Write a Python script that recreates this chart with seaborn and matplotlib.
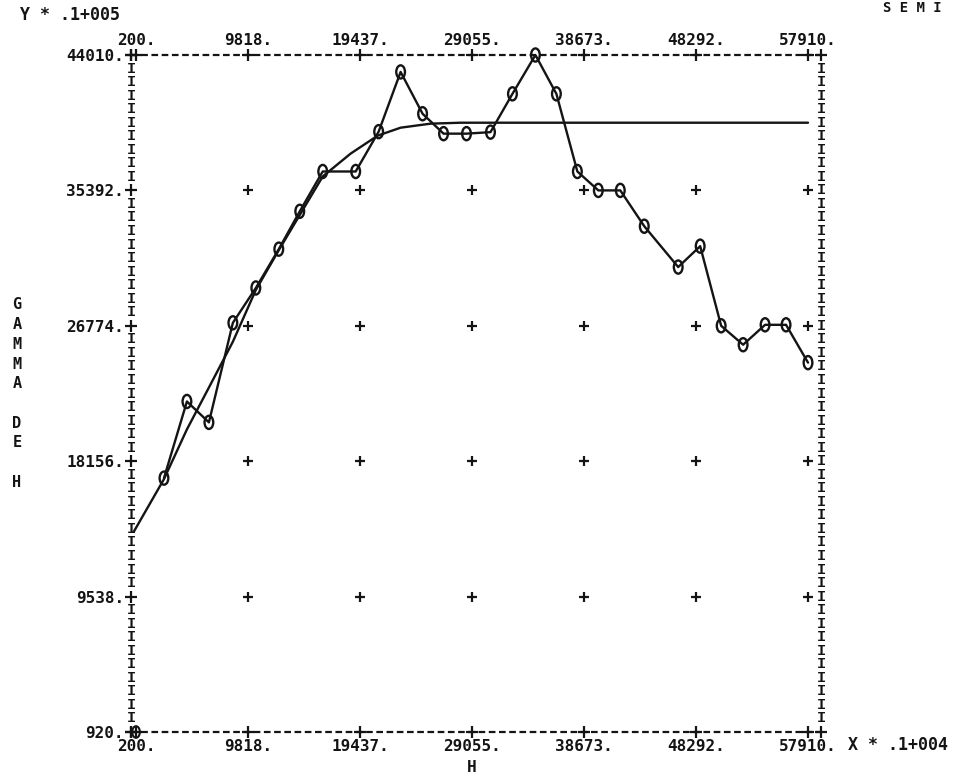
import numpy as np
import matplotlib
matplotlib.use("Agg")
import matplotlib.pyplot as plt
from matplotlib.path import Path
import seaborn as sns

# ---------------- data ----------------
X_TICKS = [200, 9818, 19437, 29055, 38673, 48292, 57910]
X_TICK_LABELS = ["200.", "9818.", "19437.", "29055.", "38673.", "48292.", "57910."]
Y_TICKS = [920, 9538, 18156, 26774, 35392, 44010]
Y_TICK_LABELS = ["920.", "9538.", "18156.", "26774.", "35392.", "44010."]

# experimental semivariogram (lag h, gamma)
LAG_H = [2601, 4573, 6460, 8518, 10490, 12462, 14263, 16235, 19065, 21037,
         22924, 24810, 26611, 28583, 30641, 32528, 34500, 36301, 38102, 39902,
         41789, 43847, 46762, 48649, 50450, 52336, 54223, 56023, 57910]
GAMMA = [17078, 21958, 20627, 26964, 29182, 31653, 34061, 36596, 36596, 39131,
         42933, 40271, 39004, 39004, 39100, 41539, 44010, 41539, 36596, 35392,
         35392, 33111, 30513, 31843, 26774, 25570, 26837, 26837, 24429]

# isolated point printed at the lower-left corner
ORIGIN_H = [200]
ORIGIN_G = [920]

# fitted model curve
MODEL_H = [0, 2601, 4573, 6460, 8518, 10490, 12462, 14349, 16235, 18636,
           20952, 22924, 25496, 28069, 57910]
MODEL_G = [13656, 17015, 20183, 22845, 25760, 29055, 31590, 33934, 36279, 37737,
           38877, 39384, 39640, 39700, 39700]

# ---------------- style ----------------
INK = "#141414"
sns.set_theme(style="white")
plt.rcParams["font.family"] = ["DejaVu Sans Mono", "DejaVu Sans"]
plt.rcParams["font.weight"] = "bold"

W, H = 961, 776
fig = plt.figure(figsize=(W / 100, H / 100), dpi=100)
fig.patch.set_facecolor("white")
ax = fig.add_axes([131 / W, 1 - 732 / H, 690 / W, 677 / H])
ax.set_facecolor("white")
ax.set_xlim(-230, 59025)
ax.set_ylim(920, 44010)
for s in ax.spines.values():
    s.set_visible(False)

def fx(px):
    return px / W

def fy(py):
    return 1 - py / H

# ticks / labels
ax.set_xticks(X_TICKS, X_TICK_LABELS)
ax.set_yticks(Y_TICKS, Y_TICK_LABELS)
ax.tick_params(axis="x", length=0, top=True, labeltop=True, bottom=True,
               labelbottom=True, pad=5, labelsize=11.5, colors=INK)
ax.tick_params(axis="y", length=0, pad=5, labelsize=11.5, colors=INK)
for lab in ax.get_xticklabels() + ax.get_yticklabels():
    lab.set_fontweight("bold")

# printer-style frame: dashed top/bottom rows, "I" columns, "+" at ticks
frame_kw = dict(color=INK, lw=1.6, clip_on=False, zorder=2)
ax.plot([0, 1], [1, 1], transform=ax.transAxes, ls=(0, (3, 1.6)), **frame_kw)
ax.plot([0, 1], [0, 0], transform=ax.transAxes, ls=(0, (3, 1.6)), **frame_kw)
plus_kw = dict(ls="none", marker="+", ms=8, mew=1.6, color=INK, clip_on=False, zorder=3)
xt = ax.get_xaxis_transform()
yt = ax.get_yaxis_transform()
ax.plot(X_TICKS, [1] * len(X_TICKS), transform=xt, **plus_kw)
ax.plot(X_TICKS, [0] * len(X_TICKS), transform=xt, **plus_kw)
ax.plot([0] * len(Y_TICKS), Y_TICKS, transform=yt, **plus_kw)
ax.plot([0, 1, 0, 1], [0, 0, 1, 1], transform=ax.transAxes, **plus_kw)

rows = np.linspace(0, 1, 51)
for i, r in enumerate(rows):
    if 0 < i < 50:
        ax.text(1, r, "I", transform=ax.transAxes, ha="center", va="center",
                family="Liberation Mono", weight="bold", size=11, color=INK)
        if i % 10 != 0:
            ax.text(0, r, "I", transform=ax.transAxes, ha="center", va="center",
                    family="Liberation Mono", weight="bold", size=11, color=INK)

# interior grid crosses
gx, gy = np.meshgrid(X_TICKS[1:], Y_TICKS[1:-1])
sns.scatterplot(x=gx.ravel(), y=gy.ravel(), marker="+", s=55, linewidth=1.6,
                color=INK, ax=ax, zorder=2, legend=False)

# model curve and experimental polyline
sns.lineplot(x=MODEL_H, y=MODEL_G, color=INK, lw=1.7, sort=False,
             estimator=None, ax=ax, zorder=2)
sns.lineplot(x=LAG_H, y=GAMMA, color=INK, lw=1.7, sort=False,
             estimator=None, ax=ax, zorder=2)

# "0" shaped markers
circ = Path.unit_circle()
ellipse = Path(circ.vertices * np.array([0.66, 1.0]), circ.codes)
sns.scatterplot(x=LAG_H, y=GAMMA, marker=ellipse, s=90, facecolor="none",
                edgecolor=INK, linewidth=1.7, ax=ax, zorder=4, clip_on=False,
                legend=False)
sns.scatterplot(x=ORIGIN_H, y=ORIGIN_G, marker=ellipse, s=70, facecolor="none",
                edgecolor=INK, linewidth=1.5, ax=ax, zorder=4, clip_on=False,
                legend=False)

# texts
fig.text(fx(20), fy(15), "Y * .1+005", ha="left", va="center", size=12,
         weight="bold", color=INK)
fig.text(fx(848), fy(745), "X * .1+004", ha="left", va="center", size=12,
         weight="bold", color=INK)
fig.text(fx(472), fy(767), "H", ha="center", va="center", size=11.5,
         weight="bold", color=INK)
fig.text(fx(912), fy(1), "S E M I", ha="center", va="top", size=10,
         weight="bold", color=INK)
for i, ch in enumerate("GAMMA DE H"):
    if ch != " ":
        fig.text(fx(17), fy(305 + i * 19.7), ch, ha="center", va="center",
                 size=11, weight="bold", color=INK)

fig.savefig("out.png", dpi=100, facecolor="white")
